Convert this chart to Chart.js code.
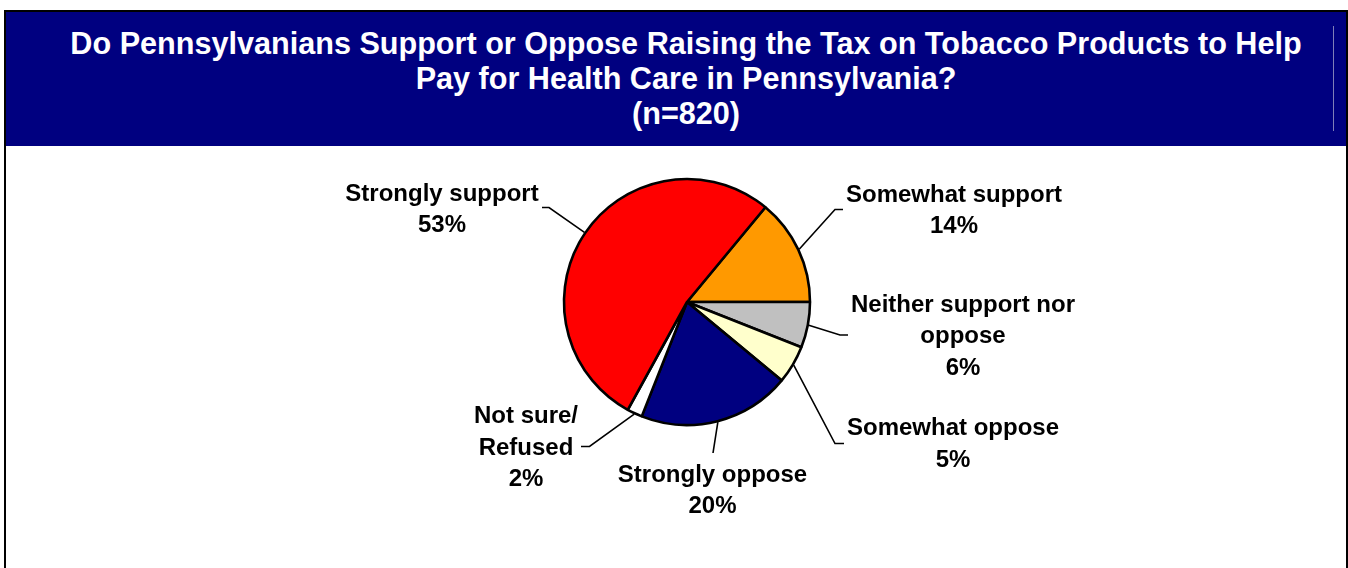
<!DOCTYPE html>
<html>
<head>
<meta charset="utf-8">
<script src="https://cdn.jsdelivr.net/npm/chart.js@4"></script>
<style>
    html, body { margin: 0; padding: 0; background: #fff; overflow: hidden; }
    body { width: 1348px; height: 568px; position: relative; font-family: "Liberation Sans", Arial, sans-serif; }
    #frame { position: absolute; left: 4px; top: 10px; width: 1340px; height: 600px;
             border: 2px solid #000; border-bottom: none; }
    #header { position: absolute; left: 6px; top: 12px; width: 1340px; height: 134px;
              background: #000080; box-sizing: border-box; padding-left: 20px; padding-top: 14px;
              color: #fff; font-weight: bold; font-size: 30.6px; line-height: 35px; text-align: center; }
    #header .mark { position: absolute; left: 1327px; top: 14px; width: 1px; height: 105px; background: #7f7fb8; }
    #pieChart { position: absolute; left: 0; top: 0; }
</style>
</head>
<body>
<div id="frame"></div>
<div id="header">
    <div id="titleText"></div>
    <div class="mark"></div>
</div>
<canvas id="pieChart" width="1348" height="568"></canvas>
<script>
// Data
const titleLines = [
    'Do Pennsylvanians Support or Oppose Raising the Tax on Tobacco Products to Help',
    'Pay for Health Care in Pennsylvania?',
    '(n=820)'
];
const categories = [
    ['Somewhat support'],
    ['Neither support nor', 'oppose'],
    ['Somewhat oppose'],
    ['Strongly oppose'],
    ['Not sure/', 'Refused'],
    ['Strongly support']
];
const percents = [14, 6, 5, 20, 2, 53];
const sliceColors = ['#FF9900', '#C0C0C0', '#FFFFCC', '#000080', '#FFFFFF', '#FF0000'];

// Label placement (text centre x, first baseline, leader elbow and end)
const labelLayout = [
    { x: 954, y: 201.5, elbow: [835, 209.5], end: [843, 209.5] },
    { x: 963, y: 311.5, elbow: [840, 335], end: [848, 335] },
    { x: 953, y: 435, elbow: [835, 443.5], end: [844, 443.5] },
    { x: 712.5, y: 481.5, elbow: [713, 453], end: [713, 453] },
    { x: 526, y: 423, elbow: [589.5, 446.5], end: [581, 446.5] },
    { x: 442, y: 200.5, elbow: [549, 207.5], end: [542, 207.5] }
];
const lineGap = 31.5;

document.getElementById('titleText').innerHTML = titleLines.join('<br>');

// Plugin: outside labels with leader lines
const outsideLabels = {
    id: 'outsideLabels',
    afterDatasetsDraw(chart) {
        const ctx = chart.ctx;
        const arcs = chart.getDatasetMeta(0).data;
        ctx.save();
        ctx.strokeStyle = '#000';
        ctx.lineWidth = 1.6;
        ctx.fillStyle = '#000';
        ctx.font = 'bold 24px "Liberation Sans", Arial, sans-serif';
        ctx.textAlign = 'center';
        ctx.textBaseline = 'alphabetic';
        arcs.forEach((arc, i) => {
            const p = arc.getProps(['x', 'y', 'startAngle', 'endAngle', 'outerRadius'], true);
            const mid = (p.startAngle + p.endAngle) / 2;
            const r = p.outerRadius + 1;
            const lay = labelLayout[i];
            ctx.beginPath();
            ctx.moveTo(p.x + Math.cos(mid) * r, p.y + Math.sin(mid) * r);
            ctx.lineTo(lay.elbow[0], lay.elbow[1]);
            ctx.lineTo(lay.end[0], lay.end[1]);
            ctx.stroke();
            const lines = categories[i].concat([percents[i] + '%']);
            lines.forEach((t, k) => ctx.fillText(t, lay.x, lay.y + k * lineGap));
        });
        ctx.restore();
    }
};

const ctx = document.getElementById('pieChart').getContext('2d');
const pieChart = new Chart(ctx, {
    type: 'pie',
    data: {
        labels: categories,
        datasets: [{
            data: percents,
            backgroundColor: sliceColors,
            borderColor: '#000',
            borderWidth: 2.6,
            hoverOffset: 0
        }]
    },
    options: {
        responsive: false,
        animation: false,
        events: [],
        rotation: 39.6,
        radius: 123,
        layout: { padding: { left: 563, right: 537, top: 178, bottom: 142 } },
        plugins: {
            legend: { display: false },
            tooltip: { enabled: false },
            title: { display: false }
        }
    },
    plugins: [outsideLabels]
});
</script>
</body>
</html>
